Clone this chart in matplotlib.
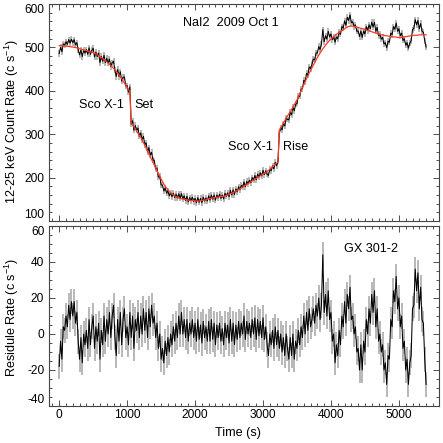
import numpy as np
import matplotlib
matplotlib.use('Agg')
import matplotlib.pyplot as plt
from matplotlib.ticker import MultipleLocator

plt.rcParams['font.family'] = ['Liberation Sans', 'DejaVu Sans']
plt.rcParams['axes.unicode_minus'] = False
plt.rcParams['mathtext.fontset'] = 'custom'
plt.rcParams['mathtext.rm'] = 'Liberation Sans'
plt.rcParams['mathtext.it'] = 'Liberation Sans'
plt.rcParams['mathtext.default'] = 'regular'

# ---------------- data ----------------
time_step_s = 20  # sampling of the light curve (s), starting at t = 0

# red model curve (c/s), one value per 20 s bin
model_rate = [
    504, 504, 504, 504, 503, 503, 503, 502, 502, 501,
    501, 500, 500, 499, 498, 497, 496, 495, 494, 493,
    493, 492, 491, 490, 489, 488, 486, 485, 483, 481,
    479, 477, 474, 472, 469, 467, 464, 461, 458, 455,
    452, 449, 445, 441, 437, 432, 428, 423, 418, 413,
    408, 403, 397, 325, 321, 317, 312, 307, 302, 297,
    293, 287, 281, 274, 268, 261, 255, 248, 242, 235,
    229, 222, 216, 209, 203, 197, 191, 185, 180, 176,
    172, 168, 165, 162, 160, 158, 156, 155, 153, 152,
    151, 151, 150, 149, 149, 148, 148, 147, 147, 147,
    146, 146, 146, 146, 147, 147, 148, 148, 149, 150,
    151, 152, 152, 153, 154, 154, 155, 155, 156, 156,
    157, 157, 158, 159, 160, 161, 163, 164, 166, 167,
    169, 170, 172, 174, 176, 178, 180, 182, 184, 186,
    188, 190, 192, 194, 196, 198, 200, 202, 204, 206,
    208, 210, 212, 214, 217, 219, 222, 225, 228, 231,
    233, 236, 309, 315, 320, 326, 331, 337, 342, 347,
    352, 357, 362, 368, 373, 379, 386, 393, 400, 407,
    414, 421, 428, 434, 441, 447, 453, 459, 465, 471,
    477, 482, 487, 492, 497, 501, 505, 509, 513, 516,
    519, 522, 525, 528, 530, 532, 534, 536, 538, 540,
    543, 545, 547, 548, 549, 549, 549, 548, 548, 547,
    546, 545, 544, 543, 542, 541, 540, 539, 538, 537,
    536, 535, 534, 533, 532, 531, 530, 529, 529, 528,
    527, 527, 526, 526, 525, 525, 524, 524, 524, 523,
    523, 523, 523, 524, 524, 525, 525, 526, 526, 527,
    527, 528, 528, 528, 528, 529, 529, 529, 529, 529,
    529,
]

# residual rate (data - model, c/s), one value per 20 s bin
residual_rate = [
    -18, -4, -14, 4, 2, 10, 4, 16, 8, 18,
    10, 18, 6, 12, -4, -14, -2, -16, 0, -6,
    2, -8, 8, -6, 4, 10, -8, 4, -4, 6,
    -14, 2, -6, 10, -4, 8, 0, 12, -2, 10,
    16, -2, -12, 8, -4, 12, -6, 8, 14, -2,
    4, -6, 12, -2, 10, -8, 8, 2, 12, -2,
    10, 0, 14, 2, 12, -2, 14, 4, 16, 6,
    10, -2, 6, -8, 0, -14, -8, -16, -4, -12,
    -2, -10, 0, -6, 4, -4, 6, -2, 10, 0,
    12, 0, 8, -2, 8, -4, 6, 0, 8, -2,
    6, -4, 8, -3, 5, -5, 7, -2, 4, -4,
    7, -4, 8, -3, 6, -6, 5, -2, 6, -4,
    3, -6, 6, -2, 5, -5, 8, -4, 6, -6,
    5, -3, 7, -2, 6, 0, 10, -3, 7, 0,
    6, -2, 8, 0, 9, -3, 8, -1, 7, -2,
    9, -3, 4, -6, -12, 0, -6, 2, -8, 4,
    -6, 2, -8, 0, -10, -2, -12, 0, -8, -14,
    -2, -12, 0, -14, -4, -8, 2, -6, 4, -2,
    10, 0, 12, 2, 14, 4, 8, 14, 6, 16,
    10, 20, 8, 16, 44, 12, 22, 10, 24, 8,
    12, -4, 0, -16, -6, -12, 2, -6, 10, 4,
    18, 6, 22, 14, 26, 8, 10, 0, 4, -10,
    -8, -20, -6, -20, -4, -10, 8, 0, 14, 6,
    22, 12, 24, 4, 14, -4, 0, -10, -6, -20,
    -16, -28, -12, -14, 8, 4, 24, 18, 32, 14,
    20, 4, 10, -8, -4, -20, -14, -28, -16, -12,
    14, 16, 36, 24, 34, 14, 26, 8, 6, -14,
    -28,
]

rate_error = 7.0  # typical 1-sigma error bar (c/s)

x_ticks = [0, 1000, 2000, 3000, 4000, 5000]
top_yticks = [100, 200, 300, 400, 500, 600]
bot_yticks = [-40, -20, 0, 20, 40, 60]

# ---------------- derived ----------------
model = np.asarray(model_rate, float)
resid = np.asarray(residual_rate, float)
assert len(model) == len(resid)
time_s = np.arange(len(model)) * time_step_s
rate = model + resid   # observed count rate = model + residual

# ---------------- figure ----------------
W = H = 443
fig = plt.figure(figsize=(W / 100, H / 100), dpi=100)
fig.patch.set_facecolor('white')

def ax_rect(left, top, right, bottom):
    return [left / W, 1 - bottom / H, (right - left) / W, (bottom - top) / H]

ax1 = fig.add_axes(ax_rect(49, 4, 439, 221))
ax2 = fig.add_axes(ax_rect(49, 226, 439, 406))

FS = 8.6     # tick labels
TFS = 9.1    # other text
ERR_C = '#a4a4a4'

def style(ax, ymaj, ymin):
    ax.xaxis.set_major_locator(MultipleLocator(1000))
    ax.xaxis.set_minor_locator(MultipleLocator(100))
    ax.yaxis.set_major_locator(MultipleLocator(ymaj))
    ax.yaxis.set_minor_locator(MultipleLocator(ymin))
    ax.tick_params(which='both', direction='in', top=True, right=True,
                   colors='#333333', labelcolor='black', labelsize=FS, width=0.6)
    ax.tick_params(which='major', length=4.2)
    ax.tick_params(which='minor', length=2.2)
    ax.tick_params(axis='y', pad=3.5)
    ax.tick_params(axis='x', pad=2.5)
    for s in ax.spines.values():
        s.set_color('#444444')
        s.set_linewidth(0.8)

# top panel
ax1.vlines(time_s, rate - rate_error, rate + rate_error, color=ERR_C, lw=1.1, zorder=1)
ax1.plot(time_s, rate, color='black', lw=0.75, zorder=2)
ax1.plot(time_s, model, color='#ff3a22', lw=0.9, zorder=3)
ax1.set_xlim(-150, 5590)
ax1.set_ylim(100, 600)
style(ax1, 100, 20)
ax1.set_yticks(top_yticks)
ax1.set_xticks(x_ticks)
ax1.tick_params(axis='x', labelbottom=False)
ax1.set_ylabel('12-25 keV Count Rate (c s$^{-1}$)', fontsize=TFS)
ax1.yaxis.label.set_va('center')
ax1.yaxis.set_label_coords(-0.094, 0.46)
ax1.text(1817, 557, 'NaI2  2009 Oct 1', fontsize=TFS, va='center', ha='left')
ax1.text(295, 367, 'Sco X-1', fontsize=TFS, va='center', ha='left')
ax1.text(1100, 367, 'Set', fontsize=TFS, va='center', ha='left')
ax1.text(2480, 271, 'Sco X-1', fontsize=TFS, va='center', ha='left')
ax1.text(3290, 271, 'Rise', fontsize=TFS, va='center', ha='left')

# bottom panel
ax2.vlines(time_s, resid - rate_error, resid + rate_error, color=ERR_C, lw=1.1, zorder=1)
ax2.plot(time_s, resid, color='black', lw=0.75, zorder=2)
ax2.set_xlim(-150, 5590)
ax2.set_ylim(-40, 60)
style(ax2, 20, 5)
ax2.set_yticks(bot_yticks)
ax2.set_xticks(x_ticks)
ax2.set_ylabel('Residule Rate (c s$^{-1}$)', fontsize=TFS)
ax2.yaxis.label.set_va('center')
ax2.yaxis.set_label_coords(-0.094, 0.49)
ax2.set_xlabel('Time (s)', fontsize=TFS)
ax2.xaxis.label.set_va('center')
ax2.xaxis.set_label_coords(0.485, -0.15)
ax2.text(4197, 47.2, 'GX 301-2', fontsize=TFS, va='center', ha='left')

# IDL-like placement of end tick labels
for ax in (ax1, ax2):
    labs = ax.get_yticklabels()
    labs[0].set_va('bottom')
    labs[-1].set_va('top')

fig.savefig('out.png', dpi=100, facecolor='white')
